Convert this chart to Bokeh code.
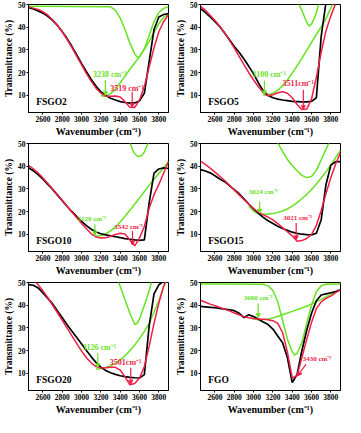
from bokeh.plotting import figure
from bokeh.layouts import gridplot
from bokeh.models import Range1d, FixedTicker, Label, Arrow, VeeHead
from bokeh.embed import file_html
from bokeh.resources import INLINE

NaN = float("nan")

# common wavenumber grid (cm-1) for measured (black) and fitted (red) spectra
wavenumber = list(range(2450, 3901, 50))

panel_names = ["FSGO2", "FSGO5", "FSGO10", "FSGO15", "FSGO20", "FGO"]

# ---------------- FSGO2 ----------------
black_fsgo2 = [48.6, 48.0, 47.2, 46.2, 44.8, 43.0, 40.8, 38.0, 35.0, 31.5, 27.8, 24.0, 20.4, 17.0, 14.0,
               11.6, 10.0, 8.8, 8.0, 7.3, 6.9, 6.6, 6.7, 7.6, 11.0, 25.0, 39.0, 44.5, 45.6, 46.0]
red_fsgo2 = [48.9, 48.4, 47.8, 46.8, 45.3, 43.3, 40.8, 37.9, 34.6, 31.0, 27.2, 23.4, 19.6, 16.2, 13.2,
             11.0, 9.7, 9.6, 9.8, 9.3, 7.2, 4.8, 4.7, 8.0, 14.0, 22.5, 31.0, 38.0, 42.5, 45.5]
gbroad_x_fsgo2 = [3200, 3240, 3300, 3350, 3400, 3450, 3500, 3550, 3600, 3650, 3700, 3750, 3800, 3850, 3900]
gbroad_y_fsgo2 = [10.0, 9.5, 10.8, 12.8, 15.5, 18.5, 21.5, 24.3, 27.2, 30.3, 33.8, 37.8, 41.5, 44.3, 46.0]
gnarrow_x_fsgo2 = [2450, 3300, 3350, 3400, 3450, 3500, 3550, 3580, 3600, 3650, 3700, 3750, 3800, 3850, 3900]
gnarrow_y_fsgo2 = [49.2, 49.0, 47.5, 44.0, 39.0, 33.0, 28.3, 26.6, 27.0, 30.5, 36.5, 42.5, 46.5, 48.3, 49.0]

# ---------------- FSGO5 ----------------
black_fsgo5 = [48.2, 46.5, 44.5, 42.5, 40.2, 37.5, 34.5, 31.5, 29.0, 26.0, 22.8, 19.5, 15.5, 12.0, 10.0,
               9.0, 8.4, 8.0, 7.7, 7.4, 7.3, 7.2, 7.2, 7.4, 9.0, 36.0, 51.0, NaN, NaN, NaN]
red_fsgo5 = [49.2, 47.5, 45.3, 43.0, 40.4, 37.5, 34.2, 30.8, 27.2, 23.6, 20.0, 16.8, 13.8, 11.2, 9.8,
             10.3, 11.2, 11.6, 11.0, 9.0, 6.0, 3.8, 4.0, 8.5, 18.0, 29.0, 38.5, 45.0, 50.5, NaN]
gbroad_x_fsgo5 = [3100, 3150, 3200, 3250, 3300, 3350, 3400, 3450, 3500, 3550, 3600, 3650, 3700, 3750, 3800, 3850]
gbroad_y_fsgo5 = [10.1, 10.2, 11.0, 12.3, 14.3, 16.8, 19.8, 23.0, 26.3, 29.8, 33.3, 36.8, 40.2, 43.8, 48.5, 53.0]
gnarrow_x_fsgo5 = [3470, 3500, 3520, 3550, 3575, 3600, 3625, 3650, 3675]
gnarrow_y_fsgo5 = [50.2, 47.3, 45.3, 42.2, 40.5, 41.5, 43.6, 46.5, 50.2]

# ---------------- FSGO10 ----------------
black_fsgo10 = [39.3, 38.0, 36.3, 34.3, 32.0, 29.8, 27.3, 24.8, 22.3, 20.0, 17.8, 15.8, 13.9, 12.3, 11.1,
                10.3, 9.8, 9.4, 9.0, 8.6, 8.2, 7.9, 7.6, 7.4, 7.6, 24.0, 37.0, 38.8, 39.3, 39.0]
red_fsgo10 = [40.4, 38.9, 37.0, 34.8, 32.4, 30.0, 27.5, 25.0, 22.4, 19.8, 17.3, 14.8, 12.5, 10.3, 8.9,
              8.4, 8.5, 9.2, 10.0, 10.5, 10.2, 7.5, 5.0, 8.5, 13.5, 21.5, 27.5, 32.0, 37.0, 42.0]
gbroad_x_fsgo10 = [3150, 3200, 3250, 3300, 3350, 3400, 3450, 3500, 3550, 3600, 3650, 3700, 3750, 3800, 3850, 3900]
gbroad_y_fsgo10 = [9.3, 9.5, 10.3, 11.6, 13.3, 15.5, 18.0, 20.6, 23.3, 26.0, 28.9, 31.7, 34.3, 36.8, 39.3, 42.0]
gnarrow_x_fsgo10 = [3500, 3525, 3550, 3575, 3600, 3625, 3650, 3675, 3700]
gnarrow_y_fsgo10 = [50.5, 47.5, 45.5, 44.5, 44.3, 44.8, 46.3, 48.8, 51.0]

# ---------------- FSGO15 ----------------
black_fsgo15 = [38.5, 37.9, 37.1, 35.8, 34.4, 33.2, 31.5, 29.7, 27.9, 25.7, 23.4, 21.2, 19.3, 17.5, 16.0,
                14.8, 13.6, 12.6, 11.8, 11.0, 10.5, 10.1, 9.9, 9.8, 10.5, 16.5, 32.0, 40.5, 42.0, 42.0]
red_fsgo15 = [42.2, 40.8, 39.2, 37.4, 35.6, 33.7, 31.6, 29.5, 27.4, 25.3, 23.3, 21.4, 19.8, 18.6, 17.6,
              16.4, 14.8, 13.0, 11.2, 9.4, 7.0, 7.3, 8.2, 10.0, 14.0, 20.5, 28.0, 35.0, 41.0, 46.0]
gbroad_x_fsgo15 = [2950, 3000, 3050, 3080, 3150, 3200, 3250, 3300, 3350, 3400, 3450, 3500, 3550, 3600, 3650,
                   3700, 3750, 3800, 3850, 3900]
gbroad_y_fsgo15 = [22.5, 20.3, 19.2, 18.9, 18.9, 19.2, 19.7, 20.3, 21.2, 22.5, 24.0, 25.7, 27.6, 29.8, 32.2,
                   34.8, 37.6, 40.6, 43.8, 47.0]
gnarrow_x_fsgo15 = [3250, 3300, 3350, 3400, 3450, 3500, 3550, 3600, 3650, 3700, 3750, 3780]
gnarrow_y_fsgo15 = [50.3, 46.5, 43.0, 40.3, 38.0, 36.0, 35.0, 35.5, 38.3, 42.8, 47.5, 50.3]

# ---------------- FSGO20 ----------------
black_fsgo20 = [49.1, 48.8, 47.6, 45.4, 43.0, 40.6, 37.5, 34.5, 31.4, 28.6, 25.8, 23.0, 20.1, 17.3, 14.8,
                12.8, 11.3, 10.3, 9.6, 9.0, 8.6, 8.3, 8.1, 8.0, 9.5, 31.0, 45.0, 49.0, 50.5, NaN]
red_fsgo20 = [NaN, 51.5, 49.0, 46.3, 43.3, 40.0, 36.7, 33.3, 29.9, 26.5, 23.1, 19.8, 16.9, 14.6, 13.0,
              12.4, 12.5, 12.7, 12.7, 11.5, 8.5, 5.0, 5.6, 8.0, 13.0, 22.0, 32.0, 41.0, 48.5, 53.0]
gbroad_x_fsgo20 = [3150, 3200, 3250, 3300, 3350, 3400, 3450, 3500, 3550, 3600, 3650, 3700, 3750, 3800, 3850, 3900]
gbroad_y_fsgo20 = [12.0, 12.1, 12.6, 13.3, 14.5, 16.0, 17.8, 20.0, 22.5, 25.3, 28.5, 32.0, 37.0, 42.0, 48.0, 53.0]
gnarrow_x_fsgo20 = [3380, 3400, 3450, 3500, 3550, 3575, 3600, 3650, 3700, 3725]
gnarrow_y_fsgo20 = [50.3, 48.3, 42.3, 36.5, 31.5, 32.0, 34.0, 40.0, 46.5, 50.3]

# ---------------- FGO ----------------
black_fgo = [39.5, 39.3, 39.1, 38.9, 38.6, 38.3, 38.0, 37.6, 36.5, 34.6, 35.8, 35.0, 33.8, 32.6, 31.5,
             29.5, 26.5, 23.5, 17.0, 6.0, 9.5, 20.0, 29.0, 36.5, 42.0, 44.5, 45.0, 45.5, 46.0, 46.8]
red_fgo = [42.2, 41.3, 40.5, 39.8, 39.0, 38.3, 37.5, 36.6, 35.8, 35.0, 34.5, 34.2, 34.0, 33.8, 33.6,
           33.2, 32.0, 28.0, 19.5, 8.0, 9.0, 17.0, 25.0, 32.5, 38.5, 41.5, 43.0, 44.0, 45.5, 46.8]
gbroad_x_fgo = [2980, 3050, 3100, 3150, 3200, 3300, 3400, 3500, 3600, 3700, 3800, 3900]
gbroad_y_fgo = [34.2, 33.6, 33.7, 34.0, 34.4, 35.8, 37.3, 38.8, 40.5, 42.6, 44.8, 46.9]
gnarrow_x_fgo = [2450, 3100, 3150, 3200, 3250, 3300, 3350, 3400, 3425, 3450, 3500, 3550, 3600, 3650, 3700,
                 3750, 3900]
gnarrow_y_fgo = [49.3, 49.2, 48.5, 46.5, 41.5, 33.5, 25.0, 19.5, 18.1, 18.8, 23.5, 32.0, 40.0, 46.0, 48.6,
                 49.2, 49.3]

# peak annotations: label text, label centre, arrow start/end
green_peak_labels = ["3238 cm\u207b\u00b9", "3100 cm\u207b\u00b9", "3120 cm\u207b\u00b9",
                     "3024 cm\u207b\u00b9", "3126 cm\u207b\u00b9", "3080 cm\u207b\u00b9"]
green_label_xy = [(3292, 19.2), (3160, 19.2), (3106, 16.7), (3100, 28.6), (3184, 21.3), (3047, 43.2)]
green_arrows = [(3246, 16.8, 3246, 10.1), (3112, 16.5, 3112, 10.5), (3137, 14.5, 3137, 9.7),
                (3063, 24.5, 3063, 19.5), (3168, 19.0, 3168, 12.7), (3047, 40.8, 3047, 34.7)]
red_peak_labels = ["3519 cm\u207b\u00b9", "3511cm\u207b\u00b9", "3542 cm\u207b\u00b9",
                   "3021 cm\u207b\u00b9", "3501cm\u207b\u00b9", "3430 cm\u207b\u00b9"]
red_label_xy = [(3470, 13.1), (3462, 15.1), (3487, 13.3), (3456, 17.2), (3456, 14.7), (3657, 16.5)]
red_arrows = [(3524, 11.5, 3524, 4.9), (3515, 12.5, 3515, 4.0), (3527, 11.5, 3527, 5.5),
              (3441, 15.0, 3441, 7.8), (3509, 12.5, 3509, 5.5), (3543, 14.1, 3459, 9.1)]
label_size = ["8px", "8px", "7px", "7px", "8px", "7px"]

x_ticks = [2600, 2800, 3000, 3200, 3400, 3600, 3800]
y_ticks = [10, 20, 30, 40, 50]

GREEN = "#66E21E"
RED = "#EE1E46"
FONT = "Liberation Serif"

spectra = [
    (black_fsgo2, red_fsgo2, gbroad_x_fsgo2, gbroad_y_fsgo2, gnarrow_x_fsgo2, gnarrow_y_fsgo2),
    (black_fsgo5, red_fsgo5, gbroad_x_fsgo5, gbroad_y_fsgo5, gnarrow_x_fsgo5, gnarrow_y_fsgo5),
    (black_fsgo10, red_fsgo10, gbroad_x_fsgo10, gbroad_y_fsgo10, gnarrow_x_fsgo10, gnarrow_y_fsgo10),
    (black_fsgo15, red_fsgo15, gbroad_x_fsgo15, gbroad_y_fsgo15, gnarrow_x_fsgo15, gnarrow_y_fsgo15),
    (black_fsgo20, red_fsgo20, gbroad_x_fsgo20, gbroad_y_fsgo20, gnarrow_x_fsgo20, gnarrow_y_fsgo20),
    (black_fgo, red_fgo, gbroad_x_fgo, gbroad_y_fgo, gnarrow_x_fgo, gnarrow_y_fgo),
]


def make_panel(i):
    black, red, gbx, gby, gnx, gny = spectra[i]
    p = figure(width=172, height=139, output_backend="svg", toolbar_location=None,
               x_range=Range1d(2450, 3900), y_range=Range1d(2.5, 50),
               min_border_left=22, min_border_right=4, min_border_top=4, min_border_bottom=22)
    p.background_fill_color = "white"
    p.border_fill_color = "white"
    p.outline_line_color = "black"
    p.outline_line_width = 1
    p.grid.visible = False

    p.line(gnx, gny, line_color=GREEN, line_width=1.5)
    p.line(gbx, gby, line_color=GREEN, line_width=1.5)
    p.line(wavenumber, black, line_color="black", line_width=1.7)
    p.line(wavenumber, red, line_color=RED, line_width=1.5)

    for ax in (p.xaxis, p.yaxis):
        ax.axis_line_color = "black"
        ax.major_tick_line_color = "black"
        ax.major_tick_in = 0
        ax.major_tick_out = 2
        ax.minor_tick_line_color = None
        ax.major_label_text_font = FONT
        ax.major_label_text_font_style = "bold"
        ax.major_label_text_font_size = "7.5px"
        ax.major_label_text_color = "black"
        ax.major_label_standoff = 1
        ax.axis_label_text_font = FONT
        ax.axis_label_text_font_style = "bold"
        ax.axis_label_text_color = "black"
        ax.axis_label_standoff = 1
    p.xaxis.ticker = FixedTicker(ticks=x_ticks)
    p.yaxis.ticker = FixedTicker(ticks=y_ticks)
    p.xaxis.axis_label = "Wavenumber (cm\u207b\u00b9)"
    p.xaxis.axis_label_text_font_size = "10px"
    p.yaxis.axis_label = "Transmittance (%)"
    p.yaxis.axis_label_text_font_size = "9.5px"

    gx, gy = green_label_xy[i]
    p.add_layout(Label(x=gx, y=gy, text=green_peak_labels[i], text_color=GREEN, text_font=FONT,
                       text_font_style="bold", text_font_size=label_size[i],
                       text_align="center", text_baseline="middle"))
    rx, ry = red_label_xy[i]
    p.add_layout(Label(x=rx, y=ry, text=red_peak_labels[i], text_color=RED, text_font=FONT,
                       text_font_style="bold", text_font_size=label_size[i],
                       text_align="center", text_baseline="middle"))
    xs, ys, xe, ye = green_arrows[i]
    p.add_layout(Arrow(end=VeeHead(size=4, line_color=GREEN, line_width=1.2),
                       x_start=xs, y_start=ys, x_end=xe, y_end=ye,
                       line_color=GREEN, line_width=1.2))
    xs, ys, xe, ye = red_arrows[i]
    p.add_layout(Arrow(end=VeeHead(size=4, line_color=RED, line_width=1.2),
                       x_start=xs, y_start=ys, x_end=xe, y_end=ye,
                       line_color=RED, line_width=1.2))
    p.add_layout(Label(x=2530, y=7.0, text=panel_names[i], text_color="black", text_font=FONT,
                       text_font_style="bold", text_font_size="9.5px",
                       text_align="left", text_baseline="middle"))
    return p


panels = [make_panel(i) for i in range(6)]
grid = gridplot([[panels[0], panels[1]], [panels[2], panels[3]], [panels[4], panels[5]]],
                toolbar_location=None)

open("out.html", "w").write(file_html(grid, INLINE))
